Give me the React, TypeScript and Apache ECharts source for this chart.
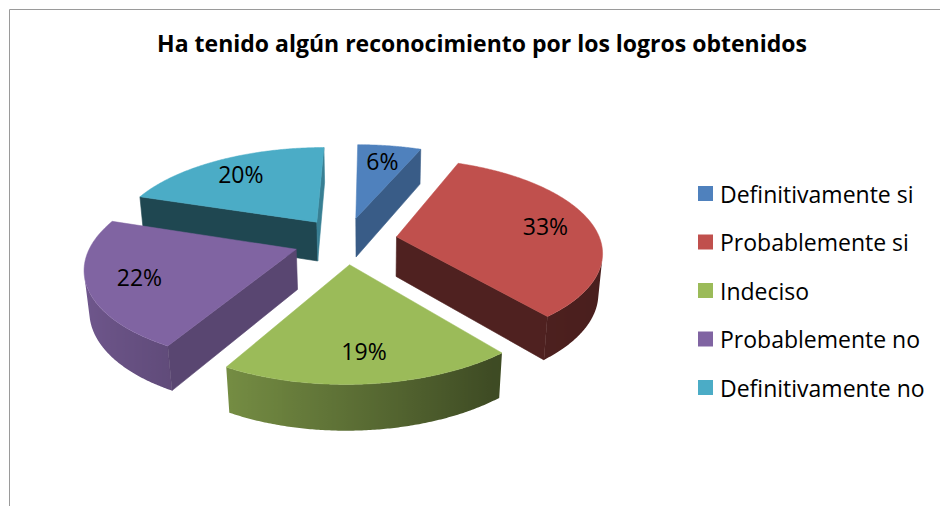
import React, { useEffect, useRef } from 'react';
import * as echarts from 'echarts';

// ---- data ----
const categories = ['Definitivamente si', 'Probablemente si', 'Indeciso', 'Probablemente no', 'Definitivamente no'];
const values = [6, 33, 19, 22, 20];
const colors = ['#4F81BD', '#C0504D', '#9BBB59', '#8064A2', '#4BACC6'];
const titleText = 'Ha tenido algún reconocimiento por los logros obtenidos';

// ---- 3D view parameters ----
const CX = 370;
const CY = 240.5;
const SCALE = 204;
const SIN_A = 0.4507;
const COS_A = Math.sqrt(1 - SIN_A * SIN_A);
const DIST = 5.6;
const CAM_X = 0.12;
const EXPLODE = 0.254;
const DEPTH = 0.222;
const LABEL_R = 0.76;
const CAM = [CAM_X, -DIST * COS_A, DIST * SIN_A];
const FONT = '"Open Sans", Lato, sans-serif';

type P3 = [number, number, number];

function project(p: P3): number[] {
  const [X, Y, Z] = p;
  const yc = Y * SIN_A + Z * COS_A;
  const d = DIST + Y * COS_A - Z * SIN_A;
  const w = d / DIST;
  return [CX + (SCALE * (X - CAM_X)) / w, CY - (SCALE * yc) / w];
}

function shade(hex: string, f: number): string {
  const n = parseInt(hex.slice(1), 16);
  const r = Math.round(((n >> 16) & 255) * f);
  const g = Math.round(((n >> 8) & 255) * f);
  const b = Math.round((n & 255) * f);
  return `rgb(${r},${g},${b})`;
}

function interp(s: number, pts: number[][]): number {
  if (s <= pts[0][0]) return pts[0][1];
  for (let i = 1; i < pts.length; i++) {
    if (s <= pts[i][0]) {
      const t = (s - pts[i - 1][0]) / (pts[i][0] - pts[i - 1][0]);
      return pts[i - 1][1] + t * (pts[i][1] - pts[i - 1][1]);
    }
  }
  return pts[pts.length - 1][1];
}

const SIDE_SHADE = [[-1, 0.88], [-0.5, 0.76], [0, 0.6], [0.6, 0.4], [1, 0.38]];

const total = values.reduce((a, b) => a + b, 0);
const slices = values.map((v, i) => {
  const before = values.slice(0, i).reduce((a, b) => a + b, 0);
  const t1 = (before / total) * Math.PI * 2;
  const t2 = ((before + v) / total) * Math.PI * 2;
  const mid = (t1 + t2) / 2;
  return { t1, t2, mid, ox: EXPLODE * Math.sin(mid), oy: EXPLODE * Math.cos(mid) };
});

function visible(n: number[], p: P3): boolean {
  return n[0] * (CAM[0] - p[0]) + n[1] * (CAM[1] - p[1]) + n[2] * (CAM[2] - p[2]) > 0;
}

function buildSlice(i: number) {
  const { t1, t2, ox, oy } = slices[i];
  const pt = (th: number, r: number, z: number): P3 => [ox + r * Math.sin(th), oy + r * Math.cos(th), z];
  const steps = Math.max(8, Math.ceil((t2 - t1) / (Math.PI / 360)));
  const children: any[] = [];
  const base = colors[i];
  const poly = (pts3: P3[], fill: string) => ({
    type: 'polygon',
    silent: true,
    shape: { points: pts3.map(project) },
    style: { fill, stroke: fill, lineWidth: 0.6 },
  });
  // outer curved side: contiguous visible runs, each one polygon with a horizontal gradient
  const runs: number[][] = [];
  let cur: number[] = [];
  for (let k = 0; k < steps; k++) {
    const m = t1 + ((t2 - t1) * (k + 0.5)) / steps;
    const n = [Math.sin(m), Math.cos(m), 0];
    if (visible(n, pt(m, 1, -DEPTH / 2))) cur.push(k);
    else if (cur.length) { runs.push(cur); cur = []; }
  }
  if (cur.length) runs.push(cur);
  runs.forEach((run) => {
    const k0 = run[0];
    const k1 = run[run.length - 1] + 1;
    const angs: number[] = [];
    for (let k = k0; k <= k1; k++) angs.push(t1 + ((t2 - t1) * k) / steps);
    const topPts = angs.map((a) => project(pt(a, 1, 0)));
    const botPts = angs.map((a) => project(pt(a, 1, -DEPTH)));
    const all = topPts.concat(botPts.slice().reverse());
    const xs = all.map((p) => p[0]);
    const xmin = Math.min(...xs);
    const xmax = Math.max(...xs);
    const stops = angs
      .map((a, j) => ({
        offset: Math.min(1, Math.max(0, (topPts[j][0] - xmin) / Math.max(1, xmax - xmin))),
        color: shade(base, interp(Math.sin(a), SIDE_SHADE)),
      }))
      .sort((p, q) => p.offset - q.offset);
    const mid = shade(base, interp(Math.sin(angs[Math.floor(angs.length / 2)]), SIDE_SHADE));
    children.push({
      type: 'polygon',
      silent: true,
      shape: { points: all },
      style: {
        fill: { type: 'linear', x: xmin, y: 0, x2: xmax, y2: 0, global: true, colorStops: stops },
        stroke: null,
        lineWidth: 0,
      },
    });
    void mid;
  });
  // cut faces
  const faces: { th: number; n: number[] }[] = [
    { th: t1, n: [-Math.cos(t1), Math.sin(t1), 0] },
    { th: t2, n: [Math.cos(t2), -Math.sin(t2), 0] },
  ];
  faces.forEach(({ th, n }) => {
    if (!visible(n, pt(th, 0.5, -DEPTH / 2))) return;
    const f = 0.41 + 0.33 * Math.max(0, n[0]);
    children.push(poly([pt(th, 0, 0), pt(th, 1, 0), pt(th, 1, -DEPTH), pt(th, 0, -DEPTH)], shade(base, f)));
  });
  // top face
  const top: P3[] = [pt(0, 0, 0)];
  for (let k = 0; k <= steps; k++) top.push(pt(t1 + ((t2 - t1) * k) / steps, 1, 0));
  children.push({
    type: 'polygon',
    silent: true,
    shape: { points: top.map(project) },
    style: { fill: base, stroke: base, lineWidth: 0.5 },
  });
  return { type: 'group', children };
}

function labelPos(i: number) {
  const { mid, ox, oy } = slices[i];
  return project([ox + LABEL_R * Math.sin(mid), oy + LABEL_R * Math.cos(mid), 0]);
}

export default function App() {
  const ref = useRef<HTMLDivElement>(null);
  useEffect(() => {
    document.body.style.margin = '0';
    if (!ref.current) return;
    const chart = echarts.init(ref.current, undefined, { renderer: 'svg' });
    const order = values.map((_, i) => i).sort((a, b) => slices[b].oy - slices[a].oy);
    const sliceSeries = order.map((i, rank) => ({
      type: 'custom',
      name: categories[i],
      coordinateSystem: 'none',
      z: 2 + rank,
      itemStyle: { color: colors[i] },
      data: [values[i]],
      renderItem: () => buildSlice(i),
    }));
    const labelSeries = {
      type: 'custom',
      name: 'labels',
      coordinateSystem: 'none',
      z: 20,
      data: values.map((v, i) => [i, v]),
      renderItem: (params: any) => {
        const i = params.dataIndex;
        const [x, y] = labelPos(i);
        return {
          type: 'text',
          x,
          y,
          silent: true,
          style: {
            text: `${values[i]}%`,
            fill: '#000',
            fontSize: 23,
            fontFamily: FONT,
            align: 'center',
            verticalAlign: 'middle',
          },
        };
      },
    };
    chart.setOption({
      animation: false,
      backgroundColor: '#fff',
      title: {
        text: titleText,
        left: 482,
        top: 31,
        textAlign: 'center',
        padding: 0,
        textStyle: { fontFamily: FONT, fontWeight: 'bold', fontSize: 23, color: '#000' },
      },
      legend: {
        data: categories,
        orient: 'vertical',
        left: 698,
        top: 182,
        padding: 0,
        itemWidth: 15,
        itemHeight: 15,
        itemGap: 25.5,
        icon: 'rect',
        selectedMode: false,
        textStyle: { fontFamily: FONT, fontSize: 23, color: '#000', padding: [0, 0, 0, 2] },
      },
      graphic: [
        {
          type: 'rect',
          silent: true,
          shape: { x: 9.5, y: 9.5, width: 1200, height: 1200 },
          style: { fill: 'none', stroke: '#9a9a9a', lineWidth: 1 },
        },
      ],
      series: [...sliceSeries, labelSeries],
    } as any);
    return () => chart.dispose();
  }, []);
  return <div ref={ref} style={{ width: 940, height: 506 }} />;
}
